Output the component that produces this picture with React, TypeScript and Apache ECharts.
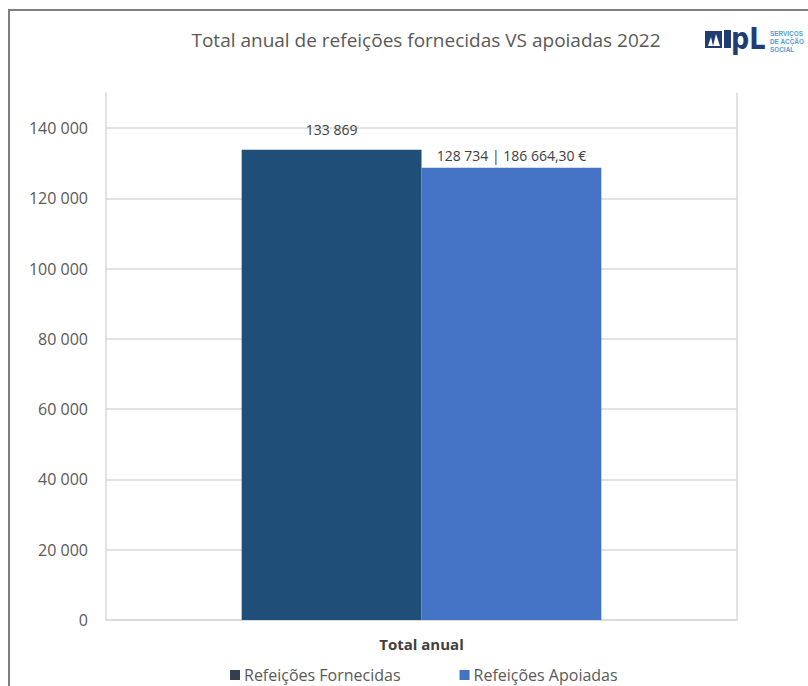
import React, { useEffect, useRef } from "react";
import * as echarts from "echarts";

const categories = ["Total anual"];
const seriesNames = ["Refeições Fornecidas", "Refeições Apoiadas"];
const fornecidas = [133869];
const apoiadas = [128734];
const apoiadasValorEuro = ["186 664,30 €"];
const yTicks = [0, 20000, 40000, 60000, 80000, 100000, 120000, 140000];

const fmt = (v: number) => String(Math.round(v)).replace(/\B(?=(\d{3})+(?!\d))/g, " ");

export default function App() {
  const ref = useRef<HTMLDivElement>(null);
  useEffect(() => {
    document.body.style.margin = "0";
    const chart = echarts.init(ref.current!, null, { renderer: "svg" });
    const font = "'Open Sans', 'Noto Sans', sans-serif";
    chart.setOption({
      animation: false,
      backgroundColor: "#ffffff",
      textStyle: { fontFamily: font },
      title: {
        text: "Total anual de refeições fornecidas VS apoiadas 2022",
        left: 421,
        textAlign: "center",
        top: 25,
        textStyle: { fontSize: 19, fontWeight: "normal", color: "#595959", fontFamily: font },
      },
      grid: { left: 106, right: 71, top: 93, bottom: 66 },
      legend: {
        left: 225,
        top: 662,
        itemWidth: 10,
        itemHeight: 10,
        itemGap: 59,
        icon: "rect",
        textStyle: { fontSize: 16, color: "#595959", fontFamily: font, padding: [0, 0, 0, -1] },
        data: [
          { name: seriesNames[0], itemStyle: { color: "#333F50" } },
          { name: seriesNames[1], itemStyle: { color: "#4472C4" } },
        ],
      },
      xAxis: {
        type: "category",
        data: categories,
        axisLine: { show: true, lineStyle: { color: "#D9D9D9", width: 1.5 } },
        axisTick: { show: false },
        axisLabel: { fontSize: 15, fontWeight: "bold", color: "#404040", margin: 16, fontFamily: font },
      },
      yAxis: [
        {
          type: "value",
          min: yTicks[0],
          max: 150000,
          interval: 20000,
          axisLine: { show: true, lineStyle: { color: "#D9D9D9", width: 1.5 } },
          axisTick: { show: false },
          splitLine: { show: true, showMaxLine: false, lineStyle: { color: "#D9D9D9", width: 1.5 } },
          axisLabel: {
            fontSize: 16,
            color: "#595959",
            margin: 18,
            fontFamily: font,
            showMaxLabel: false,
            formatter: (v: number) => (yTicks.includes(v) ? fmt(v) : ""),
          },
        },
        {
          type: "value",
          position: "right",
          min: yTicks[0],
          max: 150000,
          interval: 20000,
          axisLine: { show: true, lineStyle: { color: "#D9D9D9", width: 1.5 } },
          axisTick: { show: false },
          splitLine: { show: false },
          axisLabel: { show: false },
        },
      ],
      series: [
        {
          name: seriesNames[0],
          type: "bar",
          barGap: "0%",
          barCategoryGap: "43%",
          itemStyle: { color: "#1F4E79" },
          label: {
            show: true,
            position: "top",
            distance: 13,
            fontSize: 14,
            color: "#404040",
            fontFamily: font,
            formatter: (p: any) => fmt(p.value),
          },
          data: fornecidas,
        },
        {
          name: seriesNames[1],
          type: "bar",
          barGap: "0%",
          barCategoryGap: "43%",
          itemStyle: { color: "#4472C4" },
          label: {
            show: true,
            position: "top",
            distance: 5,
            fontSize: 14,
            color: "#404040",
            fontFamily: font,
            formatter: (p: any) => fmt(p.value) + " | " + apoiadasValorEuro[p.dataIndex],
          },
          data: apoiadas,
        },
      ],
      graphic: [
        {
          type: "rect",
          shape: { x: 9, y: 10, width: 900, height: 800 },
          style: { fill: "none", stroke: "#7F7F7F", lineWidth: 2 },
          silent: true,
        },
        {
          type: "group",
          silent: true,
          children: [
            { type: "rect", shape: { x: 705, y: 31, width: 17, height: 17 }, style: { fill: "#1F3C73" } },
            { type: "polygon", shape: { points: [[708, 46], [711, 37], [713, 46]] }, style: { fill: "#ffffff" } },
            { type: "polygon", shape: { points: [[713, 46], [716, 34], [720, 46]] }, style: { fill: "#ffffff" } },
            { type: "rect", shape: { x: 724, y: 30, width: 7, height: 18 }, style: { fill: "#1F3C73" } },
            {
              type: "text",
              x: 731,
              y: 23,
              scaleX: 0.82,
              style: { text: "pL", fontSize: 31, fontWeight: "bold", fill: "#1F3C73", fontFamily: "'DejaVu Sans', sans-serif" },
            },
            {
              type: "text",
              x: 770,
              y: 29,
              scaleX: 0.8,
              style: {
                text: "SERVIÇOS\nDE ACÇÃO\nSOCIAL",
                fontSize: 8,
                lineHeight: 8,
                fontWeight: "bold",
                fill: "#5B9BD5",
                fontFamily: "'Liberation Sans Narrow', 'Liberation Sans', sans-serif",
              },
            },
          ],
        },
      ],
    });
    return () => chart.dispose();
  }, []);
  return <div ref={ref} style={{ width: 808, height: 686 }} />;
}
